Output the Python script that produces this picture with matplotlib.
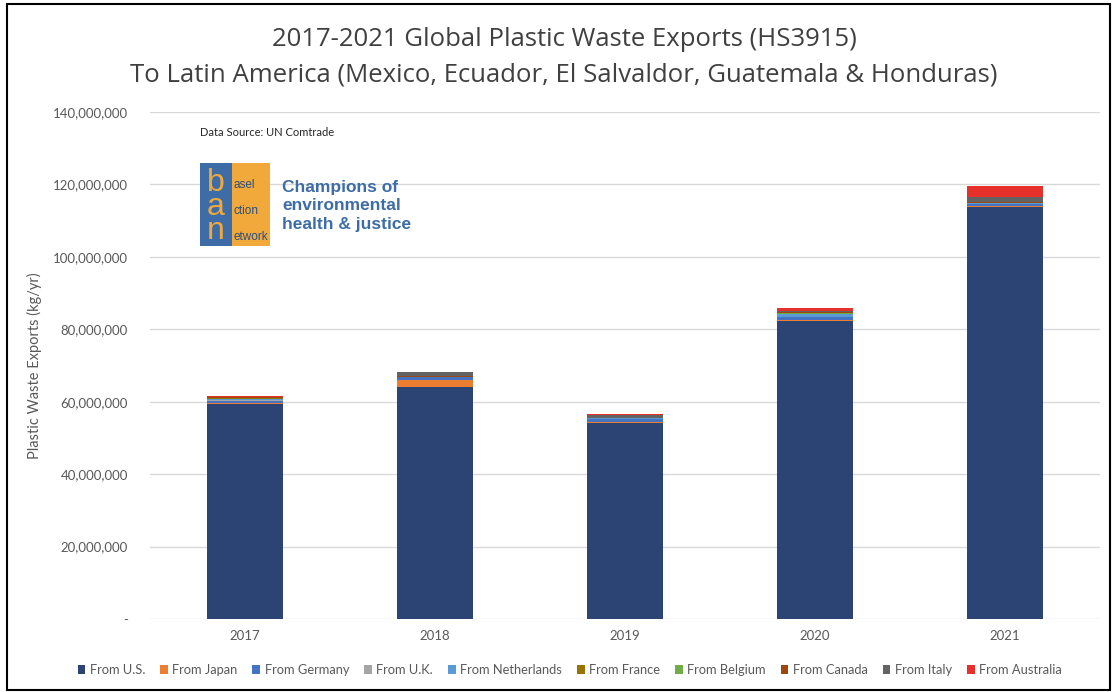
import matplotlib
matplotlib.use("Agg")
import matplotlib.pyplot as plt
from matplotlib.patches import Rectangle
from matplotlib.ticker import FuncFormatter

plt.rcParams['font.family'] = ['Lato', 'DejaVu Sans']

years = ["2017", "2018", "2019", "2020", "2021"]
series_names = ["From U.S.", "From Japan", "From Germany", "From U.K.", "From Netherlands",
                "From France", "From Belgium", "From Canada", "From Italy", "From Australia"]
# values in millions kg/yr
us = [59.5, 64.0, 54.2, 82.3, 113.8]
japan = [0.1, 1.9, 0.1, 0.2, 0.2]
germany = [0.7, 0.8, 0.8, 0.8, 0.5]
uk = [0.1, 0.1, 0.1, 0.1, 0.1]
netherlands = [0.4, 0.1, 0.3, 0.8, 0.3]
france = [0.1, 0.0, 0.0, 0.1, 0.0]
belgium = [0.1, 0.0, 0.0, 0.2, 0.0]
canada = [0.2, 0.1, 0.1, 0.2, 0.2]
italy = [0.1, 1.3, 0.8, 0.4, 1.5]
australia = [0.3, 0.0, 0.3, 0.9, 3.0]
colors = ["#2C4474", "#ED7D31", "#4472C4", "#A5A5A5", "#5B9BD5",
          "#997300", "#70AD47", "#9E480E", "#636363", "#E8302A"]

data = [us, japan, germany, uk, netherlands, france, belgium, canada, italy, australia]

fig = plt.figure(figsize=(11.15, 6.92), dpi=100)
ax = fig.add_axes([150/1115, 1-619/692, 950/1115, 507/692])

x = list(range(len(years)))
bottom = [0.0]*len(years)
for name, vals, c in zip(series_names, data, colors):
    v = [a*1e6 for a in vals]
    ax.bar(x, v, width=0.4, bottom=bottom, color=c, label=name, zorder=3)
    bottom = [b+a for b, a in zip(bottom, v)]

ax.set_xlim(-0.5, 4.5)
ax.set_ylim(0, 140e6)
ax.set_yticks([i*20e6 for i in range(8)])
ax.yaxis.set_major_formatter(FuncFormatter(lambda v, p: "-" if v == 0 else f"{int(v):,}"))
ax.set_xticks(x)
ax.set_xticklabels(years)
ax.grid(axis='y', color='#D9D9D9', linewidth=1, zorder=0)
for s in ax.spines.values():
    s.set_visible(False)
ax.tick_params(axis='both', length=0, colors='#595959', labelsize=9.5)
ax.tick_params(axis='y', pad=16)
ax.tick_params(axis='x', pad=8)
ax.set_ylabel("Plastic Waste Exports (kg/yr)", color='#595959', fontsize=10.5, labelpad=8)

fig.text(0.506, 1-40/692, "2017-2021 Global Plastic Waste Exports (HS3915)", ha='center', va='center',
         fontsize=18.5, color='#404040', family=['Open Sans', 'DejaVu Sans'])
fig.text(0.506, 1-75/692, "To Latin America (Mexico, Ecuador, El Salvaldor, Guatemala & Honduras)", ha='center', va='center',
         fontsize=18.5, color='#404040', family=['Open Sans', 'DejaVu Sans'])

fig.text(200/1115, 1-133/692, "Data Source: UN Comtrade", ha='left', va='center', fontsize=8, color='#262626')

# logo
W, H = 1115, 692
def fr(x0, y0, w, h, color):
    fig.patches.append(Rectangle((x0/W, 1-(y0+h)/H), w/W, h/H, transform=fig.transFigure,
                                 facecolor=color, edgecolor='none', zorder=5))
fr(200, 163, 70, 83, '#F2A93B')
fr(200, 163, 32, 83, '#3D6CA6')
fig.text(216/W, 1-207/H, "b\na\nn", ha='center', va='center', fontsize=23, color='#F2A93B', zorder=6,
         linespacing=0.72, family=['Liberation Sans', 'DejaVu Sans'])
for i, small in enumerate(["asel", "ction", "etwork"]):
    yc = 182 + i*26
    fig.text(234/W, 1-(yc+6)/H, small, ha='left', va='baseline', fontsize=8.5, color='#2B4F80', zorder=6,
             family=['Liberation Sans', 'DejaVu Sans'])
fig.text(282/W, 1-206/H, "Champions of\nenvironmental\nhealth & justice", ha='left', va='center',
         fontsize=12.5, color='#3D6CA6', fontweight='bold', linespacing=1.3, zorder=6,
         family=['Liberation Sans', 'DejaVu Sans'])

leg = fig.legend(loc='center', bbox_to_anchor=(0.511, 1-670/692), ncol=10, frameon=False,
                 fontsize=9.3, handlelength=0.6, handleheight=0.6, handletextpad=0.35, columnspacing=1.15,
                 labelcolor='#595959')

# border frame
fig.patches.append(Rectangle((7/W, 2/H), 1103/W, 686/H, transform=fig.transFigure,
                             facecolor='none', edgecolor='black', linewidth=1.5, zorder=10))

fig.savefig("out.png", dpi=100)
